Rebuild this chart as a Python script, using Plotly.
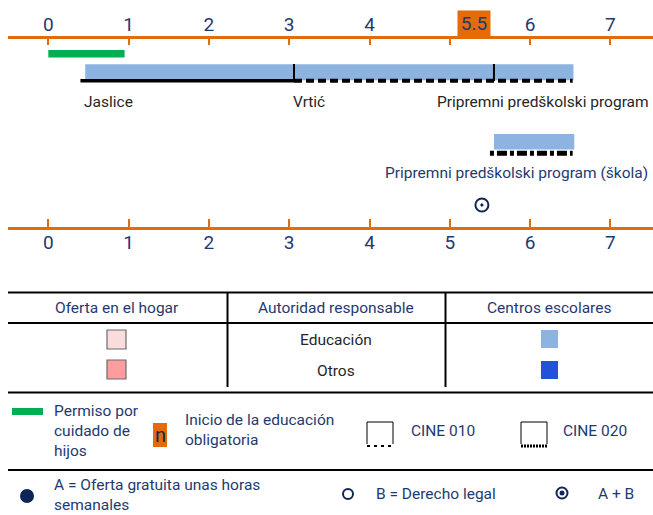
import plotly.graph_objects as go

# ---- data ----
ages = [0, 1, 2, 3, 4, 5, 6, 7]
top_tick_text = ["0", "1", "2", "3", "4", "", "6", "7"]
compulsory_start = 5.5          # shown in the orange box
compulsory_box_x = 5.3

leave_start, leave_end = 0.0, 0.95

settings = ["Jaslice", "Vrtić", "Pripremni predškolski program"]
setting_start = [0.46, 3.06, 5.55]
setting_end = [3.06, 5.55, 6.54]
isced010_span = [0.40, 3.06]
isced020_span = [3.06, 6.53]

school_label = "Pripremni predškolski program (škola)"
school_start, school_end = 5.55, 6.55
school_isced_span = [5.50, 6.53]

entitlement_age = 5.4   # A + B marker

# ---- style ----
PAGE_W, PAGE_H = 653, 515
OFF = 0                          # body margin is removed below
W, H = PAGE_W - OFF, PAGE_H - OFF
FONT = "Roboto, Liberation Sans, sans-serif"
ORANGE = "#E36C09"
NAVY = "#1F3A70"
DARKNAVY = "#0F2557"
BLUE_LIGHT = "#8DB3E0"
BLUE_DARK = "#2251DA"
PINK_LIGHT = "#FADCDC"
PINK = "#FF9C9E"
GREEN = "#00B050"
TXT = "#262626"
FS = 15.5

PX0, PXY = 48.3, 80.3     # page pixel of age 0, pixels per year


# page pixel -> paper fraction
def px(v):
    return (v - OFF) / W


def py(v):
    return 1 - (v - OFF) / H


fig = go.Figure()

# green leave bar
fig.add_trace(go.Bar(y=[53.8], x=[leave_end - leave_start], base=[leave_start], width=7.5,
                     orientation="h", marker=dict(color=GREEN, line=dict(width=0))))
# ECEC settings bar
fig.add_trace(go.Bar(y=[72.3], x=[setting_end[-1] - setting_start[0]], base=[setting_start[0]],
                     width=16, orientation="h", marker=dict(color=BLUE_LIGHT, line=dict(width=0))))
# school bar
fig.add_trace(go.Bar(y=[141.7], x=[school_end - school_start], base=[school_start], width=15.5,
                     orientation="h", marker=dict(color=BLUE_LIGHT, line=dict(width=0))))

# ISCED lines
fig.add_trace(go.Scatter(x=isced010_span, y=[80.8, 80.8], mode="lines",
                         line=dict(color="black", width=3.5)))
fig.add_trace(go.Scatter(x=isced020_span, y=[80.8, 80.8], mode="lines",
                         line=dict(color="black", width=4, dash="8px,4px")))
fig.add_trace(go.Scatter(x=school_isced_span, y=[153.2, 153.2], mode="lines",
                         line=dict(color="black", width=5, dash="4px,3px,10px,3px")))

# dividers between settings
for s in setting_start[1:]:
    fig.add_trace(go.Scatter(x=[s, s], y=[64, 81], mode="lines",
                             line=dict(color="black", width=2)))

# A + B marker
fig.add_trace(go.Scatter(x=[entitlement_age], y=[205], mode="markers",
                         marker=dict(symbol="circle-open-dot", size=13, color=DARKNAVY,
                                     line=dict(width=2, color=DARKNAVY))))

# labels
ann = []
ann.append(dict(x=setting_start[0], y=102, xref="x", yref="y", text=settings[0],
                xanchor="left", yanchor="middle", showarrow=False,
                font=dict(size=FS, color=TXT, family=FONT), xshift=-3))
ann.append(dict(x=setting_start[1], y=102, xref="x", yref="y", text=settings[1],
                xanchor="left", yanchor="middle", showarrow=False,
                font=dict(size=FS, color=TXT, family=FONT), xshift=-3))
ann.append(dict(x=px(651), y=102, xref="paper", yref="y", text=settings[2],
                xanchor="right", yanchor="middle", showarrow=False,
                font=dict(size=FS, color=TXT, family=FONT)))
ann.append(dict(x=px(650), y=173, xref="paper", yref="y", text=school_label,
                xanchor="right", yanchor="middle", showarrow=False,
                font=dict(size=FS, color=NAVY, family=FONT)))
# compulsory education box
ann.append(dict(x=compulsory_box_x, y=23.5, xref="x", yref="y", text=str(compulsory_start),
                showarrow=False, bgcolor=ORANGE, borderpad=2, width=28, height=21,
                font=dict(size=19, color=NAVY, family=FONT)))

shapes = []


def hline(y, x0=8, x1=PAGE_W, w=2):
    shapes.append(dict(type="line", xref="paper", yref="paper", x0=px(x0), x1=px(x1),
                       y0=py(y), y1=py(y), line=dict(color="black", width=w)))


def vline(x, y0, y1, w=2, dash=None):
    shapes.append(dict(type="line", xref="paper", yref="paper", x0=px(x), x1=px(x),
                       y0=py(y0), y1=py(y1), line=dict(color="black", width=w, dash=dash)))


def rect(x0, y0, x1, y1, fill, lc=None, lw=0):
    shapes.append(dict(type="rect", xref="paper", yref="paper", x0=px(x0), x1=px(x1),
                       y0=py(y0), y1=py(y1), fillcolor=fill,
                       line=dict(color=lc or fill, width=lw)))


def text(x, y, s, size=FS, color=NAVY, anchor="left"):
    ann.append(dict(x=px(x), y=py(y), xref="paper", yref="paper", text=s, showarrow=False,
                    xanchor=anchor, yanchor="middle", align="left",
                    font=dict(size=size, color=color, family=FONT)))


# table
hline(292.5)
hline(323)
hline(392.5)
vline(227.5, 292, 387)
vline(445.5, 292, 387)
text(117, 308, "Oferta en el hogar", FS, NAVY, "center")
text(336, 308, "Autoridad responsable", FS, NAVY, "center")
text(549, 308, "Centros escolares", FS, NAVY, "center")
text(336, 340, "Educación", FS, TXT, "center")
text(336, 371, "Otros", FS, TXT, "center")
rect(107, 330, 126, 349, PINK_LIGHT, "#6B6B6B", 1.2)
rect(107, 360, 126, 379, PINK, "#6B6B6B", 1.2)
rect(541, 330, 558, 348, BLUE_LIGHT)
rect(541, 361, 558, 379, BLUE_DARK)

# legend row 1
rect(12, 408, 43, 415, GREEN)
text(52, 431, "Permiso por<br>cuidado de<br>hijos")
rect(153, 423, 167, 447, ORANGE)
text(160, 435, "n", 20, DARKNAVY, "center")
text(183, 430, "Inicio de la educación<br>obligatoria")
for x0, dsh, w in [(367, "3px,4px", 2), (521, "2px,1px", 3)]:
    hline(422, x0, x0 + 26, 1)
    vline(x0, 422, 444, 1)
    vline(x0 + 26, 422, 444, 1)
    shapes.append(dict(type="line", xref="paper", yref="paper", x0=px(x0), x1=px(x0 + 26),
                       y0=py(446), y1=py(446), line=dict(color="black", width=w, dash=dsh)))
text(409, 431, "CINE 010")
text(561, 431, "CINE 020")
hline(470)

# legend row 2
shapes.append(dict(type="circle", xref="paper", yref="paper", x0=px(20), x1=px(34),
                   y0=py(489), y1=py(503), fillcolor=DARKNAVY, line=dict(color=DARKNAVY, width=0)))
text(52, 495, "A = Oferta gratuita unas horas<br>semanales")
shapes.append(dict(type="circle", xref="paper", yref="paper", x0=px(343), x1=px(353),
                   y0=py(489), y1=py(499), fillcolor="white", line=dict(color=DARKNAVY, width=2)))
text(374, 494, "B = Derecho legal")
shapes.append(dict(type="circle", xref="paper", yref="paper", x0=px(556.5), x1=px(567.5),
                   y0=py(487.5), y1=py(498.5), fillcolor="white", line=dict(color=DARKNAVY, width=2)))
shapes.append(dict(type="circle", xref="paper", yref="paper", x0=px(559.5), x1=px(564.5),
                   y0=py(490.5), y1=py(495.5), fillcolor=DARKNAVY, line=dict(color=DARKNAVY, width=0)))
text(596, 494, "A + B")

xr = [(8 - PX0) / PXY, (PAGE_W - PX0) / PXY]
axis_common = dict(range=xr, domain=[px(8), 1], tickvals=ages, showgrid=False, zeroline=False,
                   showline=True, linecolor=ORANGE, linewidth=2.5, ticks="inside",
                   tickcolor=ORANGE, tickwidth=2, fixedrange=True, ticklabelstandoff=-3,
                   tickfont=dict(size=19, color=NAVY, family=FONT))

fig.update_layout(
    width=W, height=H,
    margin=dict(l=0, r=0, t=0, b=0),
    paper_bgcolor="white", plot_bgcolor="white",
    showlegend=False, barmode="overlay",
    xaxis=dict(axis_common, anchor="free", position=py(227.7), side="bottom", ticklen=8,
               ticktext=[str(a) for a in ages]),
    xaxis2=dict(axis_common, anchor="free", position=py(36.7), side="top", overlaying="x",
                ticklen=7, ticktext=top_tick_text),
    yaxis=dict(range=[PAGE_H, OFF], domain=[0, 1], visible=False, fixedrange=True),
    shapes=shapes,
    annotations=ann,
)

# invisible trace so the top axis renders
fig.add_trace(go.Scatter(x=[0], y=[0], xaxis="x2", yaxis="y", mode="markers",
                         marker=dict(opacity=0), hoverinfo="skip"))

# the page's default 8px body margin would push the figure off the window
fig.write_html("out.html", config={"displayModeBar": False},
               post_script="document.body.style.margin='0px';")
